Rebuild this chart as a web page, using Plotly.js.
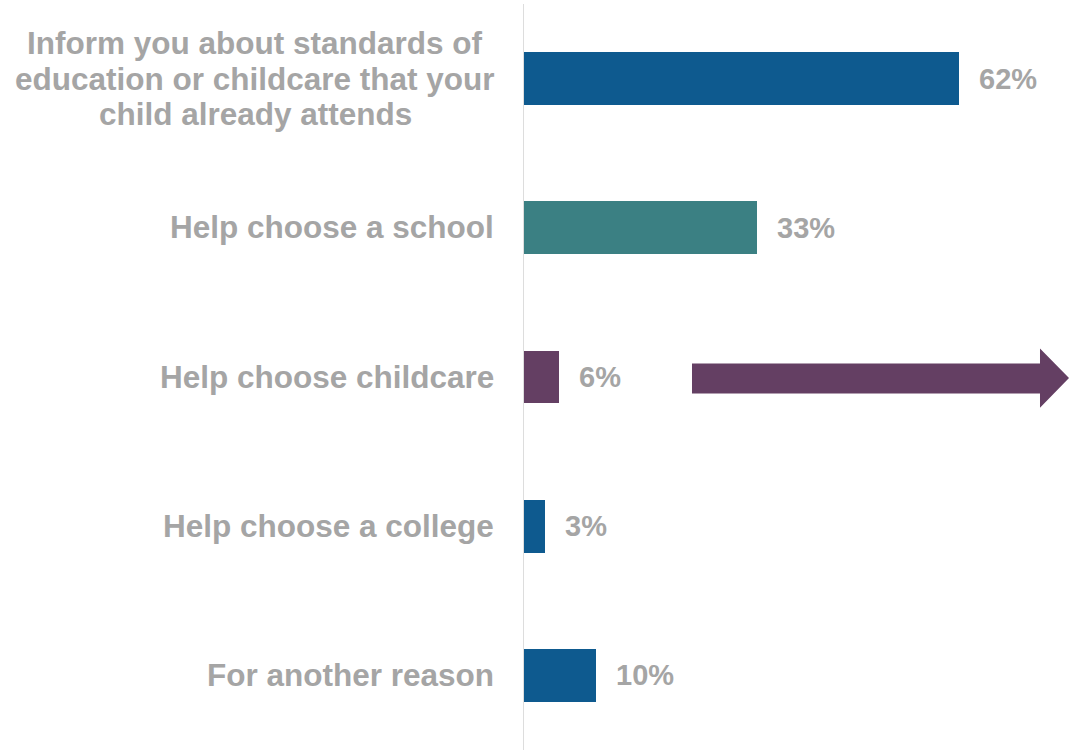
<!DOCTYPE html>
<html>
<head>
<meta charset="utf-8">
<script src="https://cdn.plot.ly/plotly-3.0.1.min.js"></script>
<style>html,body{margin:0;padding:0;background:#fff;}#chart{width:1070px;height:750px;}</style>
</head>
<body>
<div id="chart"></div>
<script>
const categories = [
  "Inform you about standards of<br>education or childcare that your<br>child already attends",
  "Help choose a school",
  "Help choose childcare",
  "Help choose a college",
  "For another reason"
];
const values = [61.9, 33.2, 5.0, 3.0, 10.3];
const valueLabels = ["62%", "33%", "6%", "3%", "10%"];
const barColors = ["#0E5A8F", "#3B8083", "#643F63", "#0E5A8F", "#0E5A8F"];

const W = 1070, H = 750;
const M = {l: 524, r: 0, t: 4, b: 0};
const plotW = W - M.l - M.r, plotH = H - M.t - M.b;
const pxPerPct = 7.03;
const grey = "#A5A5A5";
const fontFam = "'Liberation Sans', Arial, sans-serif";

const trace = {
  type: "bar",
  orientation: "h",
  y: categories,
  x: values,
  width: 0.353,
  marker: {color: barColors, line: {width: 0}},
  hoverinfo: "skip",
  showlegend: false
};

const annotations = [];
categories.forEach((cat, i) => {
  const lines = cat.split("<br>");
  if (lines.length === 1) {
    annotations.push({
      xref: "paper", yref: "y", x: 0, y: i, xanchor: "right", yanchor: "middle",
      xshift: -28, yshift: 0.5, showarrow: false, text: cat,
      font: {family: fontFam, size: 31.5, color: grey, weight: "bold"}
    });
  } else {
    const gap = 35.5;
    const mid = (lines.length - 1) / 2;
    lines.forEach((ln, k) => {
      annotations.push({
        xref: "paper", yref: "y", x: 0, y: i, xanchor: "center", yanchor: "middle",
        xshift: -269, yshift: (mid - k) * gap, showarrow: false, text: ln,
        font: {family: fontFam, size: 31.5, color: grey, weight: "bold"}
      });
    });
  }
  annotations.push({
    xref: "x", yref: "y", x: values[i], y: i, xanchor: "left", yanchor: "middle",
    xshift: 18, showarrow: false, text: valueLabels[i],
    font: {family: fontFam, size: 29, color: grey, weight: "bold"}
  });
});

// decorative arrow (paper coordinates from pixel positions)
const px = v => (v - M.l) / plotW;
const py = v => 1 - (v - M.t) / plotH;
const pts = [[692,363.5],[1040,363.5],[1040,348.5],[1069,378],[1040,407.7],[1040,393.5],[692,393.5]];
const path = "M " + pts.map(p => px(p[0]).toFixed(5) + "," + py(p[1]).toFixed(5)).join(" L ") + " Z";

const layout = {
  width: W, height: H,
  margin: M,
  paper_bgcolor: "#ffffff",
  plot_bgcolor: "#ffffff",
  bargap: 0,
  xaxis: {range: [0, plotW / pxPerPct], visible: false, showgrid: false, zeroline: false, fixedrange: true},
  yaxis: {
    type: "category", range: [4.5, -0.5], showticklabels: false, showgrid: false, zeroline: false,
    showline: true, linecolor: "#DDDDDD", linewidth: 1, ticks: "", fixedrange: true
  },
  annotations: annotations,
  shapes: [{type: "path", xref: "paper", yref: "paper", path: path, fillcolor: "#643F63", line: {width: 0}, layer: "above"}]
};

Plotly.newPlot("chart", [trace], layout, {displayModeBar: false, staticPlot: true});
</script>
</body>
</html>
